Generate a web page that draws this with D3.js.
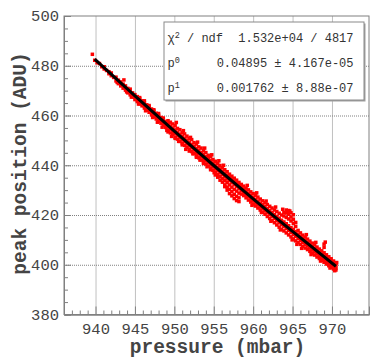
<!DOCTYPE html>
<html>
<head>
<meta charset="utf-8">
<script src="https://cdn.jsdelivr.net/npm/d3@7"></script>
<style>
body { margin: 0; background: #fff; }
text { font-family: "Liberation Mono", "DejaVu Sans Mono", monospace; }
</style>
</head>
<body>
<svg id="chart" width="372" height="358"></svg>
<script>
// axis ticks
const pressureTicks = [940, 945, 950, 955, 960, 965, 970];
const peakTicks = [380, 400, 420, 440, 460, 480, 500];
const peakGrid = [400, 420, 440, 460, 480];

// fit curve
const fitPressure = [939.9, 945, 950, 955, 960, 965, 970.5];
const fitPeak = [482.7, 467.9, 453.7, 439.9, 426.5, 413.4, 399.4];

// fit box text
const statNames = [['χ', '2', ' / ndf'], ['p', '0', ''], ['p', '1', '']];
const statValues = ['1.532e+04 / 4817', '0.04895 ± 4.167e-05', '0.001762 ± 8.88e-07'];

// scatter: one pressure per column, the peak values seen in that column
const scatterP = [
  939.6, 939.9, 940.2, 940.5, 940.8, 941.1, 941.4, 941.7, 942.0, 942.3,
  942.6, 942.9, 943.2, 943.5, 943.6, 943.8, 944.1, 944.4, 944.7, 945.0, 945.3, 945.6, 945.9,
  946.2, 946.5, 946.8, 947.1, 947.4, 947.7, 948.0, 948.3, 948.6, 948.9,
  949.2, 949.5, 949.8, 950.1, 950.4, 950.7, 951.0, 951.3, 951.6, 951.9,
  952.2, 952.5, 952.8, 953.1, 953.4, 953.7, 954.0, 954.3, 954.6, 954.9,
  955.2, 955.5, 955.8, 956.1, 956.4, 956.7, 957.0, 957.3, 957.6, 957.9, 958.2, 958.5,
  958.8, 959.1, 959.4, 959.7, 960.0, 960.3, 960.6, 960.9, 961.2, 961.5, 961.8,
  962.1, 962.4, 962.7, 963.0, 963.3, 963.6, 963.9, 964.2, 964.5, 964.8, 965.1, 965.4,
  965.7, 966.0, 966.3, 966.6,
  966.9, 967.2, 967.5, 967.8, 968.1, 968.4, 968.7, 969.0, 969.3, 969.6, 969.9, 970.2, 970.5
];
const scatterV = [
  [484.6], [482.2], [481.2], [480.9], [479.6], [479.6, 478.7], [478.1], [477.6, 476.8], [476.0, 477.1], [475.3],
  [475.4, 473.9], [474.2, 472.8], [473.5, 471.9, 472.6], [472.6, 471.0], [474.3], [471.9, 470.2, 470.9],
  [470.9, 469.1, 469.8], [469.9, 468.3, 470.6], [469.1, 467.5, 468.2], [468.4, 466.4, 467.3],
  [467.6, 465.6, 466.3], [466.8, 464.7, 465.5, 467.2], [465.9, 463.9, 464.6],
  [465.2, 463.0, 463.8, 465.9], [464.3, 462.1, 463.0], [463.5, 461.3, 462.1, 464.0], [462.6, 460.3, 461.2],
  [461.8, 459.5, 460.4, 462.3], [460.9, 458.6, 459.5], [460.1, 457.8, 458.6, 460.8], [459.2, 456.9, 457.8],
  [458.4, 456.0, 456.9, 459.0], [457.6, 455.2, 456.1],
  [457.9, 456.7, 455.4, 454.1, 453.4], [457.3, 455.8, 454.5, 453.0], [456.6, 455.0, 453.6, 452.3],
  [455.9, 454.2, 452.8, 451.3, 450.8], [454.8, 453.3, 452.0, 450.5], [454.3, 452.5, 451.1, 449.6],
  [453.2, 451.7, 450.3, 448.9, 448.2], [452.6, 450.9, 449.5, 448.0], [451.7, 450.1, 448.6, 447.2],
  [450.8, 449.3, 447.8, 446.4, 445.7],
  [450.3, 448.4, 447.0, 445.5], [449.1, 447.6, 446.1, 444.7], [448.5, 446.8, 445.2, 443.8, 443.2],
  [447.4, 445.9, 444.5, 443.0], [446.9, 445.1, 443.6, 442.1], [445.8, 444.3, 442.8, 441.4, 440.7],
  [445.1, 443.4, 441.9, 440.5], [444.0, 442.6, 441.1, 439.7], [443.4, 441.8, 440.3, 438.9, 438.2],
  [442.3, 440.9, 439.4, 438.0],
  [441.6, 440.1, 438.7, 437.3, 436.1], [440.7, 439.2, 437.8, 436.3, 435.2], [439.9, 438.5, 437.0, 435.5, 434.0],
  [439.0, 437.6, 436.2, 434.6, 433.2], [438.2, 436.8, 435.3, 433.8, 432.1, 431.4],
  [437.4, 436.0, 434.5, 433.0, 431.2, 430.0], [436.4, 435.2, 433.8, 432.1, 430.3, 428.6],
  [435.6, 434.4, 433.0, 431.2, 429.4, 427.7], [434.8, 433.6, 432.2, 430.3, 428.3, 426.6],
  [434.0, 432.8, 431.4, 429.6, 427.5, 425.8], [433.1, 431.9, 430.6, 428.8, 426.9, 425.4],
  [432.3, 431.1, 429.8, 428.4],
  [431.6, 430.3, 428.9, 427.8], [430.8, 429.5, 428.1, 426.9], [430.1, 428.7, 427.3, 426.0],
  [429.3, 427.9, 426.4, 425.2], [428.6, 427.1, 425.7, 424.4], [427.9, 426.3, 424.8, 423.6],
  [427.2, 425.6, 424.1, 422.8], [426.4, 424.8, 423.3, 422.0], [425.7, 424.1, 422.5, 421.1],
  [424.9, 423.3, 421.7, 420.3], [424.2, 422.5, 420.9, 419.4],
  [423.5, 421.8, 420.2, 418.6], [422.8, 421.0, 419.4, 417.7], [422.0, 420.2, 418.6, 416.9],
  [421.4, 419.4, 417.7, 416.0], [420.7, 418.7, 416.9, 415.1], [420.0, 417.9, 416.1, 414.3],
  [421.0, 419.6, 417.2, 415.4, 413.6], [422.0, 420.8, 419.0, 416.5, 414.6, 412.8],
  [421.8, 420.3, 418.4, 415.7, 413.8, 412.0], [420.9, 419.2, 417.6, 414.9, 413.0, 411.2],
  [420.1, 418.3, 416.6, 414.2, 412.2, 410.4], [417.0, 415.4, 413.3, 411.4, 409.6],
  [413.8, 412.3, 410.6, 408.9], [412.8, 411.4, 409.8, 408.2], [411.9, 410.5, 409.0, 407.4], [411.1, 409.7, 408.2, 406.7],
  [410.3, 408.9, 407.5, 406.1], [409.5, 408.1, 406.7, 405.4], [408.7, 407.3, 405.9, 404.6],
  [408.0, 406.6, 405.2, 403.9], [407.1, 405.8, 404.4, 403.1], [406.3, 405.0, 403.7, 402.5],
  [405.6, 404.3, 402.9, 401.7], [408.3, 407.0, 404.8, 403.5, 402.2, 401.0], [404.0, 402.8, 401.4, 400.3],
  [403.2, 402.0, 400.7, 399.6], [402.4, 401.2, 400.0, 398.9], [401.5, 400.3, 399.2, 398.3],
  [400.6, 399.6, 398.6, 397.9]
];

// stray points along the edges of the band
const edgeP = [
  942.75, 943.95, 944.55, 945.45, 946.35, 947.25, 947.85, 948.45, 949.05, 949.65,
  950.25, 950.55, 951.15, 951.45, 952.05, 952.35, 952.95, 953.25, 953.85, 954.15,
  954.75, 955.05, 955.65, 956.25, 959.25, 959.85, 960.45, 961.05, 961.65, 962.25,
  962.85, 963.45, 963.75, 964.35, 964.65, 964.95, 965.55, 966.15, 966.75, 967.35,
  967.95, 968.55, 969.15, 969.75, 970.35, 970.6
];
const edgeV = [
  473.3, 469.5, 467.4, 464.6, 461.9, 459.2, 457.3, 455.3, 454.0, 451.6,
  457.2, 449.6, 453.9, 446.4, 451.2, 444.6, 449.3, 442.1, 446.9, 439.4,
  444.2, 437.0, 441.8, 440.0, 431.9, 423.9, 428.9, 421.0, 425.6, 417.5,
  423.2, 414.0, 422.3, 421.4, 421.6, 410.0, 408.2, 406.6, 412.1, 404.1,
  409.0, 401.5, 409.1, 398.7, 397.6, 400.9
];

const points = [];
scatterP.forEach((p, i) => scatterV[i].forEach(v => points.push([p, v])));
edgeP.forEach((p, i) => points.push([p, edgeV[i]]));

const svg = d3.select('#chart');
const x = d3.scaleLinear().domain([936, 974.7]).range([64, 369]);
const y = d3.scaleLinear().domain([380, 500]).range([314.5, 16]);
const plotH = y(380) - y(500);
const plotW = x(974.7) - x(936);

// dotted grid
const gx = svg.append('g').attr('class', 'grid')
  .attr('transform', `translate(0,${y(380)})`)
  .call(d3.axisBottom(x).tickValues(pressureTicks).tickSize(-plotH).tickFormat(''));
const gy = svg.append('g').attr('class', 'grid')
  .attr('transform', `translate(${x(936)},0)`)
  .call(d3.axisLeft(y).tickValues(peakGrid).tickSize(-plotW).tickFormat(''));
[gx, gy].forEach(g => {
  g.select('.domain').remove();
  g.selectAll('line').attr('stroke', '#808080').attr('stroke-dasharray', '1,1');
});

// scatter
svg.append('g').selectAll('rect')
  .data(points)
  .enter().append('rect')
  .attr('x', d => x(d[0]) - 1.75)
  .attr('y', d => y(d[1]) - 1.75)
  .attr('width', 3.5)
  .attr('height', 3.5)
  .attr('fill', '#ff0000');

// fit line
const fitLine = d3.line().x(d => x(d[0])).y(d => y(d[1])).curve(d3.curveNatural);
svg.append('path')
  .datum(fitPressure.map((p, i) => [p, fitPeak[i]]))
  .attr('d', fitLine)
  .attr('fill', 'none')
  .attr('stroke', '#000')
  .attr('stroke-width', 3);

// frame
svg.append('rect')
  .attr('x', x(936)).attr('y', y(500))
  .attr('width', plotW).attr('height', plotH)
  .attr('fill', 'none').attr('stroke', '#808080');

// minor + major ticks, drawn inward
const minorP = d3.range(937, 975, 1).filter(v => v % 5 !== 0);
const minorV = d3.range(385, 500, 5).filter(v => v % 20 !== 0);

const axMinX = svg.append('g').attr('transform', `translate(0,${y(380)})`)
  .call(d3.axisBottom(x).tickValues(minorP).tickSize(-4).tickFormat(''));
const axMinY = svg.append('g').attr('transform', `translate(${x(936)},0)`)
  .call(d3.axisLeft(y).tickValues(minorV).tickSize(-4).tickFormat(''));
const axX = svg.append('g').attr('transform', `translate(0,${y(380)})`)
  .call(d3.axisBottom(x).tickValues(pressureTicks).tickSize(-8).tickPadding(8));
const axY = svg.append('g').attr('transform', `translate(${x(936)},0)`)
  .call(d3.axisLeft(y).tickValues(peakTicks).tickSize(-7).tickPadding(5));

[axMinX, axMinY, axX, axY].forEach(g => {
  g.select('.domain').attr('stroke', '#808080');
  g.selectAll('line').attr('stroke', '#808080');
  g.selectAll('text')
    .attr('font-family', '"Liberation Mono", monospace')
    .attr('font-size', 15.5)
    .attr('fill', '#444');
});

// axis titles
svg.append('text')
  .attr('x', 217.5).attr('y', 353)
  .attr('text-anchor', 'middle')
  .attr('font-size', 19.5).attr('font-weight', 'bold').attr('fill', '#444')
  .text('pressure (mbar)');
svg.append('text')
  .attr('transform', 'translate(26,163.5) rotate(-90)')
  .attr('text-anchor', 'middle')
  .attr('font-size', 19.5).attr('font-weight', 'bold').attr('fill', '#444')
  .text('peak position (ADU)');

// fit stats box
const box = svg.append('g');
box.append('rect')
  .attr('x', 165.5).attr('y', 23.5).attr('width', 200).attr('height', 78)
  .attr('fill', '#a0a0a0');
box.append('rect')
  .attr('x', 164).attr('y', 22).attr('width', 200).attr('height', 78)
  .attr('fill', '#fff').attr('stroke', '#8a8a8a');

statNames.forEach((n, i) => {
  const yy = 42 + i * 25;
  const t = box.append('text')
    .attr('x', 167.5).attr('y', yy)
    .attr('font-size', 12).attr('fill', '#333');
  t.append('tspan').text(n[0]);
  t.append('tspan').attr('font-size', 8.5).attr('dy', -4).text(n[1]);
  t.append('tspan').attr('dy', 4).text(n[2]);
  box.append('text')
    .attr('x', 353.5).attr('y', yy)
    .attr('text-anchor', 'end')
    .attr('font-size', 12).attr('fill', '#333')
    .text(statValues[i]);
});
</script>
</body>
</html>
